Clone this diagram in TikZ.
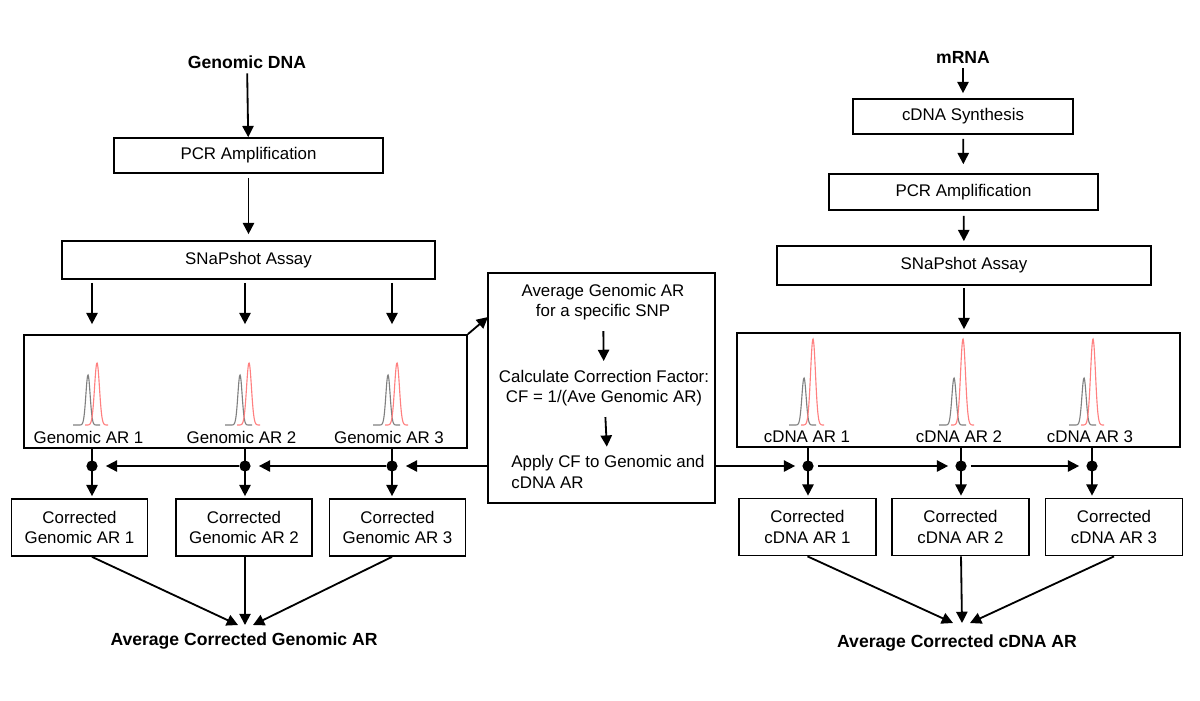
\documentclass[tikz,border=0pt]{standalone}
\usepackage{fontspec}
\setmainfont{Liberation Sans}
\usetikzlibrary{arrows.meta}

\begin{document}
\begin{tikzpicture}[x=0.025cm,y=-0.025cm]
\useasboundingbox (0,0) rectangle (1200,700);

\begin{scope}[every node/.style={font=\fontsize{12.5}{15}\selectfont\bfseries}]
	\node (gdna) at (247,62) {Genomic DNA};
	\node (mrna) at (963,57) {mRNA};
	\node (gavg) at (244,641) {Average Corrected Genomic AR};
	\node (cavg) at (957,643) {Average Corrected cDNA AR};
\end{scope}

\begin{scope}[every node/.style={draw,line width=1.2pt,inner sep=0pt,align=center,
              font=\fontsize{12}{14.5}\selectfont}]
	\node[minimum width=6.725cm,minimum height=0.875cm] (gpcr) at (248.5,155.5) {PCR Amplification};
	\node[minimum width=9.325cm,minimum height=0.95cm] (gsnap) at (248.5,260) {SNaPshot Assay};
	\node[minimum width=11.075cm,minimum height=2.825cm] (gpeaks) at (245.5,391.5) {};
	\node[minimum width=3.4cm,minimum height=1.425cm] (gcor1) at (79.5,527.5) {Corrected\\Genomic AR 1};
	\node[minimum width=3.4cm,minimum height=1.425cm] (gcor2) at (244,527.5) {Corrected\\Genomic AR 2};
	\node[minimum width=3.4cm,minimum height=1.425cm] (gcor3) at (397.5,527.5) {Corrected\\Genomic AR 3};
	\node[minimum width=5.675cm,minimum height=5.75cm] (cf) at (601.5,388) {};
	\node[minimum width=5.5cm,minimum height=0.875cm] (csyn) at (963,116.5) {cDNA Synthesis};
	\node[minimum width=6.725cm,minimum height=0.9cm] (cpcr) at (963.5,192) {PCR Amplification};
	\node[minimum width=9.35cm,minimum height=0.975cm] (csnap) at (964,265.5) {SNaPshot Assay};
	\node[minimum width=11.075cm,minimum height=2.85cm] (cpeaks) at (958.5,390) {};
	\node[minimum width=3.425cm,minimum height=1.425cm] (ccor1) at (807.5,527) {Corrected\\cDNA AR 1};
	\node[minimum width=3.425cm,minimum height=1.425cm] (ccor2) at (960.5,527) {Corrected\\cDNA AR 2};
	\node[minimum width=3.425cm,minimum height=1.425cm] (ccor3) at (1114,527) {Corrected\\cDNA AR 3};
\end{scope}

\begin{scope}[every node/.style={align=center,font=\fontsize{12}{14.5}\selectfont}]
	\node (gar1) at (88.5,437) {Genomic AR 1};
	\node (gar2) at (241.5,437) {Genomic AR 2};
	\node (gar3) at (389,437) {Genomic AR 3};
	\node (car1) at (807,437) {cDNA AR 1};
	\node (car2) at (959,437) {cDNA AR 2};
	\node (car3) at (1090,437) {cDNA AR 3};
	\node (cft1) at (603,302) {Average Genomic AR\\for a specific SNP};
	\node (cft2) at (604,388) {Calculate Correction Factor:\\CF = 1/(Ave Genomic AR)};
	\node[align=left] (cft3) at (608,472) {Apply CF to Genomic and\\cDNA AR};
\end{scope}

\begin{scope}[every node/.style={circle,fill=black,inner sep=0pt,minimum size=0.28cm}]
	\node (gdot1) at (92,466) {};
	\node (gdot2) at (245,466) {};
	\node (gdot3) at (392,466) {};
	\node (cdot1) at (808,466) {};
	\node (cdot2) at (961,466) {};
	\node (cdot3) at (1092,466) {};
\end{scope}

\coordinate (cfin) at (488,317);
\coordinate (gtip1) at (238,625);
\coordinate (gtip2) at (245,625);
\coordinate (gtip3) at (253,625);
\coordinate (ctip1) at (953,623);
\coordinate (ctip2) at (962,623);
\coordinate (ctip3) at (970,623);

\begin{scope}[line width=0.8pt]
	\draw[gray] plot[domain=-15:12,samples=60] ({88+\x},{425-50*exp(-((\x)^2)/9)});
	\draw[red!50] plot[domain=-12:11,samples=60] ({97+\x},{425-62*exp(-((\x)^2)/12)});
	\draw[gray] plot[domain=-15:12,samples=60] ({240+\x},{425-50*exp(-((\x)^2)/9)});
	\draw[red!50] plot[domain=-12:11,samples=60] ({249+\x},{425-62*exp(-((\x)^2)/12)});
	\draw[gray] plot[domain=-15:12,samples=60] ({388+\x},{425-50*exp(-((\x)^2)/9)});
	\draw[red!50] plot[domain=-12:11,samples=60] ({397+\x},{425-62*exp(-((\x)^2)/12)});
	\draw[gray] plot[domain=-15:12,samples=60] ({804+\x},{425-47*exp(-((\x)^2)/9)});
	\draw[red!50] plot[domain=-12:11,samples=60] ({813+\x},{425-86*exp(-((\x)^2)/12)});
	\draw[gray] plot[domain=-15:12,samples=60] ({954+\x},{425-47*exp(-((\x)^2)/9)});
	\draw[red!50] plot[domain=-12:11,samples=60] ({963+\x},{425-86*exp(-((\x)^2)/12)});
	\draw[gray] plot[domain=-15:12,samples=60] ({1084+\x},{425-47*exp(-((\x)^2)/9)});
	\draw[red!50] plot[domain=-12:11,samples=60] ({1093+\x},{425-86*exp(-((\x)^2)/12)});
\end{scope}

\begin{scope}[>={Triangle[length=8pt,width=8pt]},
              every edge/.style={draw=black,line width=1.3pt}]
	\path [->] (gdna) edge (gpcr);
	\path [->] (gpcr) edge [shorten <=0.1cm,shorten >=0.15cm] (gsnap);
	\path [->] (gsnap.south -| gdot1) edge [shorten <=0.075cm,shorten >=0.25cm] (gpeaks.north -| gdot1);
	\path [->] (gsnap.south -| gdot2) edge [shorten <=0.075cm,shorten >=0.25cm] (gpeaks.north -| gdot2);
	\path [->] (gsnap.south -| gdot3) edge [shorten <=0.075cm,shorten >=0.25cm] (gpeaks.north -| gdot3);
	\path [->] (gpeaks.south -| gdot1) edge [shorten >=0.05cm] (gcor1.north -| gdot1);
	\path [->] (gpeaks.south -| gdot2) edge [shorten >=0.05cm] (gcor2.north -| gdot2);
	\path [->] (gpeaks.south -| gdot3) edge [shorten >=0.05cm] (gcor3.north -| gdot3);
	\path [->] (gpeaks.north east) edge (cfin);
	\path [->] (cf.west |- gdot3) edge [shorten >=0.2cm] (gdot3);
	\path [->] (gdot3) edge [shorten >=0.2cm] (gdot2);
	\path [->] (gdot2) edge [shorten >=0.2cm] (gdot1);
	\path [->] (gcor1.south -| gdot1) edge (gtip1);
	\path [->] (gcor2.south -| gdot2) edge (gtip2);
	\path [->] (gcor3.south -| gdot3) edge (gtip3);

	\path [->] (cft1) edge [shorten <=0.15cm,shorten >=0.1cm] (cft2);
	\path [->] (cft2) edge [shorten <=0.15cm,shorten >=0.1cm] (cft3);

	\path [->] (mrna) edge [shorten >=0.125cm] (csyn);
	\path [->] (csyn) edge [shorten <=0.1cm,shorten >=0.225cm] (cpcr);
	\path [->] (cpcr) edge [shorten <=0.125cm,shorten >=0.1cm] (csnap);
	\path [->] (csnap) edge [shorten <=0.05cm,shorten >=0.075cm] (csnap |- cpeaks.north);
	\path [->] (cpeaks.south -| cdot1) edge [shorten >=0.05cm] (ccor1.north -| cdot1);
	\path [->] (cpeaks.south -| cdot2) edge [shorten >=0.05cm] (ccor2.north -| cdot2);
	\path [->] (cpeaks.south -| cdot3) edge [shorten >=0.05cm] (ccor3.north -| cdot3);
	\path [->] (cf.east |- cdot1) edge [shorten >=0.175cm] (cdot1);
	\path [->] (cdot1) edge [shorten <=0.1cm,shorten >=0.175cm] (cdot2);
	\path [->] (cdot2) edge [shorten <=0.1cm,shorten >=0.175cm] (cdot3);
	\path [->] (ccor1.south) edge (ctip1);
	\path [->] (ccor2.south -| cdot2) edge (ctip2);
	\path [->] (ccor3.south) edge (ctip3);
\end{scope}
\end{tikzpicture}
\end{document}
